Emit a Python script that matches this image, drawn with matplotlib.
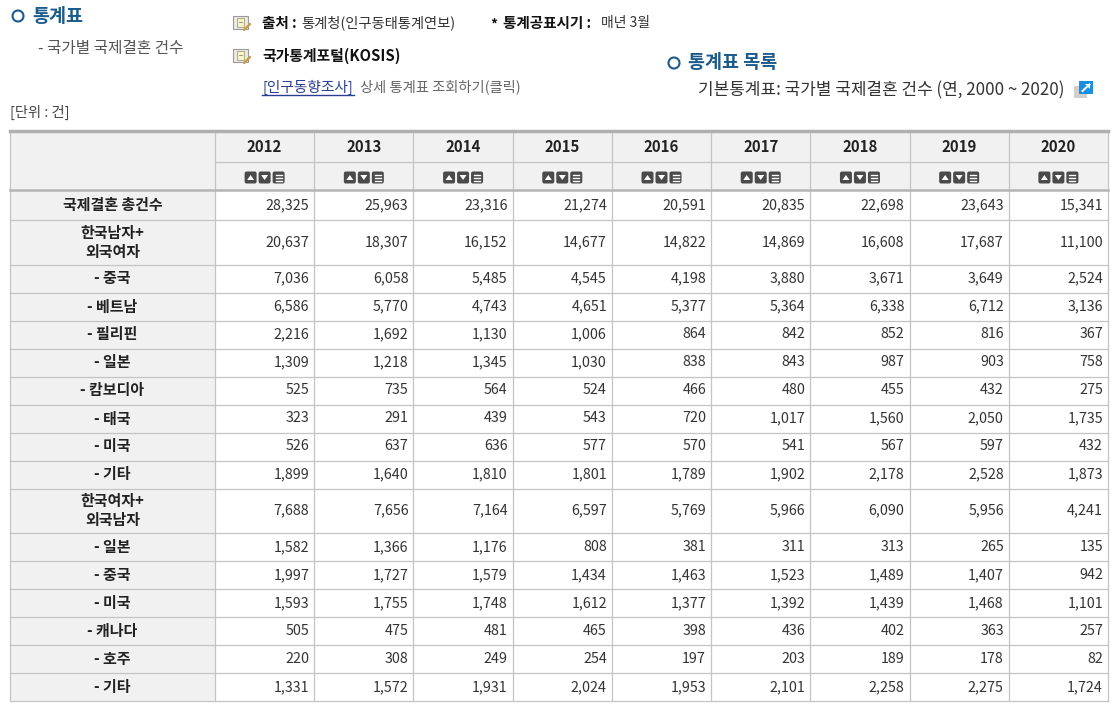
import matplotlib
matplotlib.use("Agg")
import matplotlib.pyplot as plt
from matplotlib.patches import Rectangle, FancyBboxPatch, Polygon, Circle

plt.rcParams["font.family"] = ["Noto Sans CJK KR", "DejaVu Sans"]

years = ["2012", "2013", "2014", "2015", "2016", "2017", "2018", "2019", "2020"]

row_labels = ["국제결혼 총건수", "한국남자+\n외국여자",
              "- 중국", "- 베트남", "- 필리핀", "- 일본", "- 캄보디아", "- 태국", "- 미국", "- 기타",
              "한국여자+\n외국남자",
              "- 일본", "- 중국", "- 미국", "- 캐나다", "- 호주", "- 기타"]

total = [28325, 25963, 23316, 21274, 20591, 20835, 22698, 23643, 15341]
kor_male = [20637, 18307, 16152, 14677, 14822, 14869, 16608, 17687, 11100]
wife_china = [7036, 6058, 5485, 4545, 4198, 3880, 3671, 3649, 2524]
wife_vietnam = [6586, 5770, 4743, 4651, 5377, 5364, 6338, 6712, 3136]
wife_phil = [2216, 1692, 1130, 1006, 864, 842, 852, 816, 367]
wife_japan = [1309, 1218, 1345, 1030, 838, 843, 987, 903, 758]
wife_cambodia = [525, 735, 564, 524, 466, 480, 455, 432, 275]
wife_thai = [323, 291, 439, 543, 720, 1017, 1560, 2050, 1735]
wife_usa = [526, 637, 636, 577, 570, 541, 567, 597, 432]
wife_other = [1899, 1640, 1810, 1801, 1789, 1902, 2178, 2528, 1873]
kor_female = [7688, 7656, 7164, 6597, 5769, 5966, 6090, 5956, 4241]
hus_japan = [1582, 1366, 1176, 808, 381, 311, 313, 265, 135]
hus_china = [1997, 1727, 1579, 1434, 1463, 1523, 1489, 1407, 942]
hus_usa = [1593, 1755, 1748, 1612, 1377, 1392, 1439, 1468, 1101]
hus_canada = [505, 475, 481, 465, 398, 436, 402, 363, 257]
hus_aus = [220, 308, 249, 254, 197, 203, 189, 178, 82]
hus_other = [1331, 1572, 1931, 2024, 1953, 2101, 2258, 2275, 1724]

rows = [total, kor_male, wife_china, wife_vietnam, wife_phil, wife_japan, wife_cambodia,
        wife_thai, wife_usa, wife_other, kor_female, hus_japan, hus_china, hus_usa,
        hus_canada, hus_aus, hus_other]

W, H = 1115, 709
fig = plt.figure(figsize=(W / 100, H / 100), dpi=100)
ax = fig.add_axes([0, 0, 1, 1])
ax.set_xlim(0, W); ax.set_ylim(H, 0); ax.axis("off")

BLUE = "#1d5b8c"
GRID = "#c4c4c4"
HEAD_BG = "#f1f1f1"


def book_icon(x, y):
    # small open book with pencil, like the site's bullet image
    ax.add_patch(Rectangle((x, y - 7), 15, 13, fc="#e9e9e9", ec="#9a9a9a", lw=0.8))
    ax.add_patch(Rectangle((x + 4, y - 5), 7, 9, fc="#f7f3c8", ec="#a8a070", lw=0.6))
    ax.plot([x + 6, x + 9], [y - 1, y - 1], color="#888888", lw=0.6)
    ax.plot([x + 11, x + 17], [y + 7, y + 1], color="#c89a40", lw=1.6, solid_capstyle="round")


def title(x, y, s):
    ax.add_patch(Circle((x + 6, y), 5.5, fc="none", ec=BLUE, lw=1.5))
    ax.text(x + 20, y, s, color=BLUE, fontsize=13.3, fontweight="bold", va="center", ha="left")


# ---- top area
title(12, 16, "통계표")
ax.text(38, 48, "- 국가별 국제결혼 건수", fontsize=11.3, color="#555555", va="center")

book_icon(233, 23)
ax.text(262, 23, "출처 :", fontsize=10.5, fontweight="bold", color="#111111", va="center")
ax.text(301, 23, "통계청(인구동태통계연보)", fontsize=10.3, color="#333333", va="center")
ax.text(490, 25, "*", fontsize=10, fontweight="bold", color="#111111", va="center")
ax.text(503, 23, "통계공표시기 :", fontsize=10.5, fontweight="bold", color="#111111", va="center")
ax.text(601, 23, "매년 3월", fontsize=10, color="#333333", va="center")

book_icon(233, 56)
ax.text(262, 56, "국가통계포털(KOSIS)", fontsize=10.7, fontweight="bold", color="#111111", va="center")

ax.text(262, 87, "[인구동향조사]", fontsize=10.6, color="#2a3f8f", va="center")
ax.plot([262, 354], [95, 95], color="#2a3f8f", lw=1)
ax.text(360, 87, "상세 통계표 조회하기(클릭)", fontsize=10.3, color="#666666", va="center")

title(668, 63, "통계표 목록")
ax.text(698, 90, "기본통계표: 국가별 국제결혼 건수 (연, 2000 ~ 2020)", fontsize=12.2,
        color="#333333", va="center")
ax.add_patch(Rectangle((1074, 86), 13, 12, fc="#cfcfcf", ec="none"))
ax.add_patch(Rectangle((1079, 81), 14, 13, fc="#1a8ee0", ec="none"))
ax.plot([1082.5, 1089.5], [91, 84.5], color="white", lw=1.4)
ax.add_patch(Polygon([(1090, 84), (1085, 84), (1090, 89)], fc="white", ec="none"))

ax.text(10, 112, "[단위 : 건]", fontsize=10.3, color="#444444", va="center")

# ---- table geometry
left, label_w, right = 10, 205, 1108
col_w = (right - left - label_w) / len(years)
top, head1, head2 = 131, 162, 190
heights = [30 if i == 0 else (44.5 if "\n" in lab else 28) for i, lab in enumerate(row_labels)]

# backgrounds
ax.add_patch(Rectangle((left, top), right - left, head2 - top, fc=HEAD_BG, ec="none"))
y = head2
for h in heights:
    ax.add_patch(Rectangle((left, y), label_w, h, fc=HEAD_BG, ec="none"))
    y += h
bottom = y

# header
for j, yr in enumerate(years):
    x0 = left + label_w + j * col_w
    cx = x0 + col_w / 2
    ax.text(cx, (top + head1) / 2 + 1, yr, fontsize=10.8, fontweight="bold",
            color="#222222", ha="center", va="center")
    by = 177.5
    for k in range(3):
        bx = cx - 20 + k * 14
        ax.add_patch(FancyBboxPatch((bx, by - 6), 12, 12, boxstyle="round,pad=0,rounding_size=2",
                                    fc="#4a4a4a", ec="none"))
    bx = cx - 20
    ax.add_patch(Polygon([(bx + 2.5, by + 2.5), (bx + 9.5, by + 2.5), (bx + 6, by - 2.5)],
                         fc="white", ec="none"))
    bx = cx - 6
    ax.add_patch(Polygon([(bx + 2.5, by - 2.5), (bx + 9.5, by - 2.5), (bx + 6, by + 2.5)],
                         fc="white", ec="none"))
    bx = cx + 8
    for dy in (-3, 0, 3):
        ax.plot([bx + 3, bx + 9], [by + dy, by + dy], color="white", lw=1.0)

# body
y = head2
for lab, vals, h in zip(row_labels, rows, heights):
    cy = y + h / 2
    ax.text(left + label_w / 2, cy, lab, fontsize=10.8, fontweight="bold", color="#222222",
            ha="center", va="center", linespacing=1.2)
    for j, v in enumerate(vals):
        xr = left + label_w + (j + 1) * col_w - 5
        ax.text(xr, cy, f"{v:,}", fontsize=10.3, color="#333333", ha="right", va="center")
    y += h

# grid lines
y = head2
for h in heights[:-1]:
    y += h
    ax.plot([left, right], [y, y], color=GRID, lw=0.9)
ax.plot([left + label_w, right], [head1, head1], color=GRID, lw=0.9)
ax.plot([left, right], [bottom, bottom], color=GRID, lw=0.9)
for j in range(len(years) + 1):
    x = left + label_w + j * col_w
    ax.plot([x, x], [top, bottom], color=GRID, lw=0.9)
ax.plot([left, left], [top, bottom], color=GRID, lw=0.9)
ax.plot([left, right], [head2, head2], color="#b5b5b5", lw=1.8)
ax.plot([left, right], [top, top], color="#b0b0b0", lw=2.5)

fig.savefig("out.png", dpi=100)
